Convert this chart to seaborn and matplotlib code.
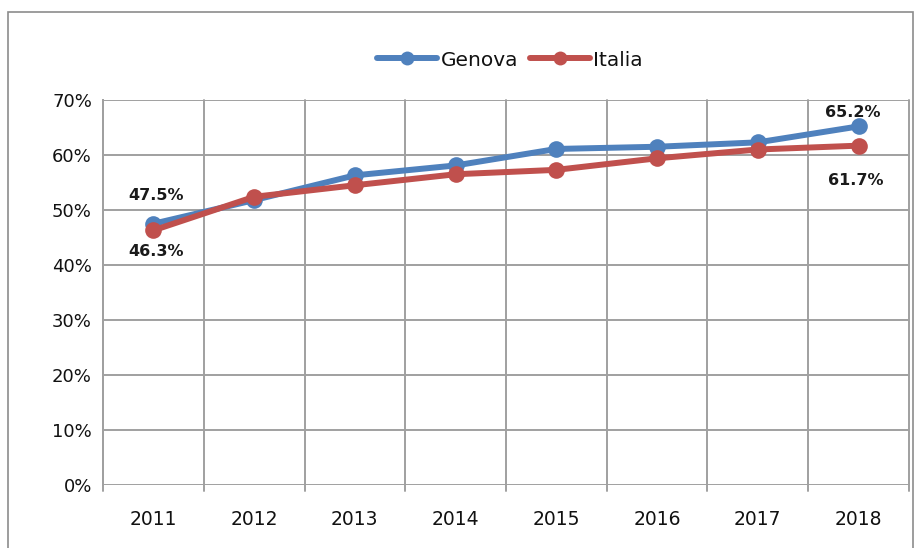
import matplotlib
matplotlib.use("Agg")
import matplotlib.pyplot as plt
import seaborn as sns
import pandas as pd
from matplotlib.patches import Rectangle
from matplotlib.lines import Line2D

years = ["2011", "2012", "2013", "2014", "2015", "2016", "2017", "2018"]
genova = [47.5, 51.8, 56.3, 58.1, 61.1, 61.5, 62.3, 65.2]
italia = [46.3, 52.4, 54.5, 56.5, 57.3, 59.4, 61.0, 61.7]
series_names = ["Genova", "Italia"]
colors = {"Genova": "#4F81BD", "Italia": "#C0504D"}
yticks = [0, 10, 20, 30, 40, 50, 60, 70]

df = pd.DataFrame({
    "idx": list(range(len(years))) * 2,
    "value": genova + italia,
    "series": ["Genova"] * len(years) + ["Italia"] * len(years),
})

sns.set_style("white")
plt.rcParams['font.family'] = ['DejaVu Sans']

fig = plt.figure(figsize=(9.19, 5.48), dpi=100)
ax = fig.add_axes([103/919, 1-485/548, (909-103)/919, (485-100)/548])

sns.lineplot(data=df, x="idx", y="value", hue="series", palette=colors,
             marker="o", markersize=12, markeredgewidth=0, linewidth=4.3,
             ax=ax, legend=False, zorder=3)

ax.set_xlim(-0.5, len(years) - 0.5)
ax.set_ylim(0, 70)
ax.set_yticks(yticks)
ax.set_yticklabels([f"{v}%" for v in yticks], fontsize=13, color="#111111")
ax.set_xticks(range(len(years)))
ax.set_xticklabels(years, fontsize=13.5, color="#111111")
ax.tick_params(axis="x", length=0, pad=18)
ax.tick_params(axis="y", length=0, pad=8)
ax.set_xlabel("")
ax.set_ylabel("")

grid_c = "#a0a0a0"
for v in yticks:
    ax.axhline(v, color=grid_c, lw=1.4, zorder=1)
for b in [i + 0.5 for i in range(-1, len(years))]:
    ax.plot([b, b], [-1.0, 70], color=grid_c, lw=1.4, zorder=1, clip_on=False)
for s in ["top", "right", "bottom"]:
    ax.spines[s].set_visible(False)
ax.spines["left"].set_color(grid_c)
ax.spines["left"].set_linewidth(1.4)

lab_kw = dict(textcoords="offset points", ha="center", va="center",
              fontsize=11.5, fontweight="bold", color="#1a1a1a", zorder=5)
ax.annotate(f"{genova[0]}%", (0, genova[0]), xytext=(2, 20), **lab_kw)
ax.annotate(f"{italia[0]}%", (0, italia[0]), xytext=(2, -15), **lab_kw)
ax.annotate(f"{genova[-1]}%", (7, genova[-1]), xytext=(-4, 10), **lab_kw)
ax.annotate(f"{italia[-1]}%", (7, italia[-1]), xytext=(-2, -25), **lab_kw)

handles = [Line2D([0], [0], color=colors[n], lw=4.3, marker="o", markersize=10,
                  markeredgewidth=0) for n in series_names]
fig.legend(handles, series_names, loc="center", bbox_to_anchor=(510/919, 1-60/548),
           ncol=2, frameon=False, fontsize=14.5, handlelength=3.0, handletextpad=0.15,
           columnspacing=0.6, labelcolor="#111111")

fig.patches.append(Rectangle((8/919, -0.02), (913-8)/919, 0.02 + 1-12/548,
                             transform=fig.transFigure, fill=False,
                             edgecolor="#8c8c8c", lw=1.2))

fig.savefig("out.png", dpi=100)
